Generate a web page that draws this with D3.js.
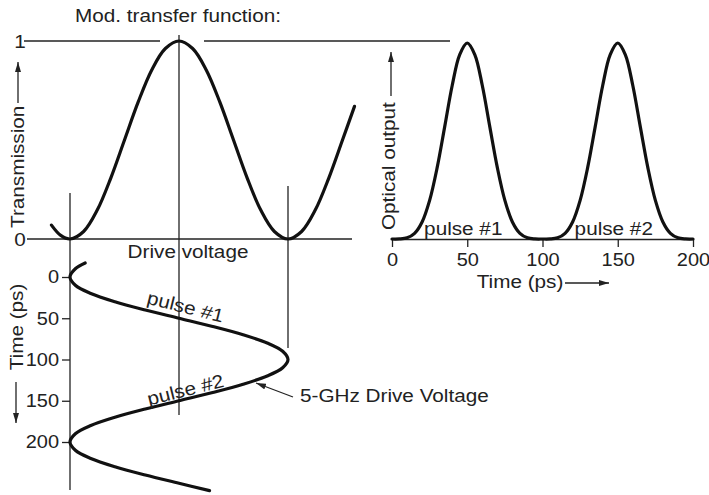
<!DOCTYPE html>
<html>
<head>
<meta charset="utf-8">
<script src="https://cdn.jsdelivr.net/npm/d3@7"></script>
<style>
  html, body { margin: 0; padding: 0; background: #fff; }
  svg { display: block; }
  text { font-family: "Liberation Sans", Arial, Helvetica, sans-serif; fill: #222; }
</style>
</head>
<body>
<svg id="chart" width="709" height="495"></svg>
<script>
// Modulator transfer function: transmission versus drive voltage (voltage in units of V_pi)
const voltage      = [-0.17, -0.085, 0, 0.125, 0.25, 0.375, 0.5, 0.625, 0.75, 0.875, 1, 1.125, 1.25, 1.375, 1.5, 1.625, 1.75, 1.875, 2, 2.125, 2.25, 2.375, 2.5, 2.61];
const transmission = [0.07, 0.018, 0, 0.038, 0.146, 0.309, 0.5, 0.691, 0.854, 0.962, 1, 0.962, 0.854, 0.691, 0.5, 0.309, 0.146, 0.038, 0, 0.038, 0.146, 0.309, 0.5, 0.67];
const transTicks   = [0, 1];

// 5-GHz sinusoidal drive voltage versus time
const driveTime    = [-17, -10, 0, 10, 20, 30, 40, 50, 60, 70, 80, 90, 100, 110, 120, 130, 140, 150, 160, 170, 180, 190, 200, 210, 220, 230, 240, 250, 259];
const driveVoltage = [0.139, 0.049, 0, 0.049, 0.191, 0.412, 0.691, 1, 1.309, 1.588, 1.809, 1.951, 2, 1.951, 1.809, 1.588, 1.309, 1, 0.691, 0.412, 0.191, 0.049, 0, 0.049, 0.191, 0.412, 0.691, 1, 1.28];
const timeTicks    = [0, 50, 100, 150, 200];

// Optical output pulses versus time
const outTime  = [0, 5, 10, 15, 20, 25, 30, 35, 40, 45, 50, 55, 60, 65, 70, 75, 80, 85, 90, 95, 100,
                  105, 110, 115, 120, 125, 130, 135, 140, 145, 150, 155, 160, 165, 170, 175, 180, 185, 190, 195, 200];
const outPower = [0, 0.0004, 0.006, 0.029, 0.087, 0.197, 0.364, 0.572, 0.783, 0.941, 1, 0.941, 0.783, 0.572, 0.364, 0.197, 0.087, 0.029, 0.006, 0.0004, 0,
                  0.0004, 0.006, 0.029, 0.087, 0.197, 0.364, 0.572, 0.783, 0.941, 1, 0.941, 0.783, 0.572, 0.364, 0.197, 0.087, 0.029, 0.006, 0.0004, 0];
const pulseLabels = ["pulse #1", "pulse #2"];
const pulseCentres = [50, 150];

const svg = d3.select("#chart");
const INK = "#222";
const CURVE = "#111";
const FONT = 18.5;
const STRETCH = 1.12;
const TICK_STRETCH = 1.08;

// Scales
const xV = d3.scaleLinear().domain([0, 2]).range([70, 288]);      // drive voltage
const yT = d3.scaleLinear().domain([0, 1]).range([239, 41]);      // transmission
const yTime = d3.scaleLinear().domain([0, 200]).range([277, 442]);// time, running downward
const xOut = d3.scaleLinear().domain([0, 200]).range([392, 693]); // time, right panel
const yOut = d3.scaleLinear().domain([0, 1]).range([239, 43]);    // optical output

// Arrowhead marker
const defs = svg.append("defs");
defs.append("marker")
  .attr("id", "arrow")
  .attr("viewBox", "0 0 10 6")
  .attr("refX", 10).attr("refY", 3)
  .attr("markerWidth", 10).attr("markerHeight", 6)
  .attr("markerUnits", "userSpaceOnUse")
  .attr("orient", "auto")
  .append("path").attr("d", "M0,0 L10,3 L0,6 Z").attr("fill", INK);

function label(text, x, y, opt = {}) {
  return svg.append("text")
    .attr("transform", `translate(${x},${y}) rotate(${opt.rotate || 0}) scale(${STRETCH},1)`)
    .attr("text-anchor", opt.anchor || "start")
    .style("font-size", (opt.size || FONT) + "px")
    .text(text);
}

function line(x1, y1, x2, y2, w = 1.3, arrow = false) {
  const l = svg.append("line")
    .attr("x1", x1).attr("y1", y1).attr("x2", x2).attr("y2", y2)
    .attr("stroke", INK).attr("stroke-width", w);
  if (arrow) l.attr("marker-end", "url(#arrow)");
  return l;
}

// ---- Transfer-function panel ----
label("Mod. transfer function:", 75, 22);

// Transmission = 1 reference line, broken around the peak, continuing to the pulse peak
line(24, yT(1), 160, yT(1));
line(204, yT(1), 450, yT(1));
// Transmission = 0 baseline
line(27, yT(0), 352, yT(0));

// Tick labels on the transmission axis
transTicks.forEach(v => label(String(v), 20, yT(v) + 7, { anchor: "middle" }));

// Vertical guides at V = 0, 1, 2 (the V = 0 guide doubles as the time axis)
line(xV(0), 193, xV(0), 490);
line(xV(1), 35, xV(1), 415);
line(xV(2), 186, xV(2), 348);

// Transfer curve
const transPts = voltage.map((v, i) => [xV(v), yT(transmission[i])]);
svg.append("path")
  .attr("d", d3.line().curve(d3.curveCatmullRom.alpha(0.5))(transPts))
  .attr("fill", "none").attr("stroke", CURVE).attr("stroke-width", 3.2)
  .attr("stroke-linecap", "round");

label("Transmission", 24, 228, { rotate: -90 });
line(18, 103, 18, 62, 1.3, true);

label("Drive voltage", 188, 258, { anchor: "middle" });

// ---- Drive voltage versus time ----
const timeAxis = svg.append("g")
  .attr("transform", `translate(${xV(0)},0)`)
  .call(d3.axisLeft(yTime).tickValues(timeTicks).tickSize(8).tickSizeOuter(0).tickPadding(3));
timeAxis.select(".domain").remove();
timeAxis.selectAll(".tick line").attr("stroke", INK).attr("stroke-width", 1.3);
timeAxis.selectAll(".tick text")
  .attr("fill", INK)
  .style("font-family", '"Liberation Sans", Arial, sans-serif')
  .style("font-size", FONT + "px")
  .attr("transform", `scale(${TICK_STRETCH},1)`)
  .attr("x", -11 / TICK_STRETCH);

const drivePts = driveTime.map((t, i) => [xV(driveVoltage[i]), yTime(t)]);
svg.append("path")
  .attr("d", d3.line().curve(d3.curveCatmullRom.alpha(0.5))(drivePts))
  .attr("fill", "none").attr("stroke", CURVE).attr("stroke-width", 3.2)
  .attr("stroke-linecap", "round");

label("Time (ps)", 23, 327, { rotate: -90, anchor: "middle" });
line(16, 382, 16, 423, 1.3, true);

// Pulse labels along the drive waveform
label(pulseLabels[0], 184, 313, { anchor: "middle", rotate: 14 });
label(pulseLabels[1], 187, 396, { anchor: "middle", rotate: -14 });

// Drive waveform annotation
label("5-GHz Drive Voltage", 300, 402);
line(293, 397, 256, 383, 1.2, true);

// ---- Optical output panel ----
const outAxis = svg.append("g")
  .attr("transform", `translate(0,${yOut(0)})`)
  .call(d3.axisBottom(xOut).tickValues(timeTicks).tickSize(8).tickSizeOuter(0).tickPadding(6));
outAxis.select(".domain").attr("stroke", INK).attr("stroke-width", 1.3);
outAxis.selectAll(".tick line").attr("stroke", INK).attr("stroke-width", 1.3);
outAxis.selectAll(".tick text")
  .attr("fill", INK)
  .style("font-family", '"Liberation Sans", Arial, sans-serif')
  .style("font-size", FONT + "px")
  .attr("transform", `scale(${TICK_STRETCH},1)`);

const outPts = outTime.map((t, i) => [xOut(t), yOut(outPower[i])]);
svg.append("path")
  .attr("d", d3.line().curve(d3.curveCatmullRom.alpha(0.5))(outPts))
  .attr("fill", "none").attr("stroke", CURVE).attr("stroke-width", 3.2)
  .attr("stroke-linecap", "round");

pulseLabels.forEach((p, i) => label(p, xOut(pulseCentres[i]) - 4, 235, { anchor: "middle" }));

label("Optical output", 395, 230, { rotate: -90 });
line(391, 96, 391, 52, 1.3, true);

label("Time (ps)", 520, 288, { anchor: "middle" });
line(565, 283, 609, 283, 1.3, true);
</script>
</body>
</html>
